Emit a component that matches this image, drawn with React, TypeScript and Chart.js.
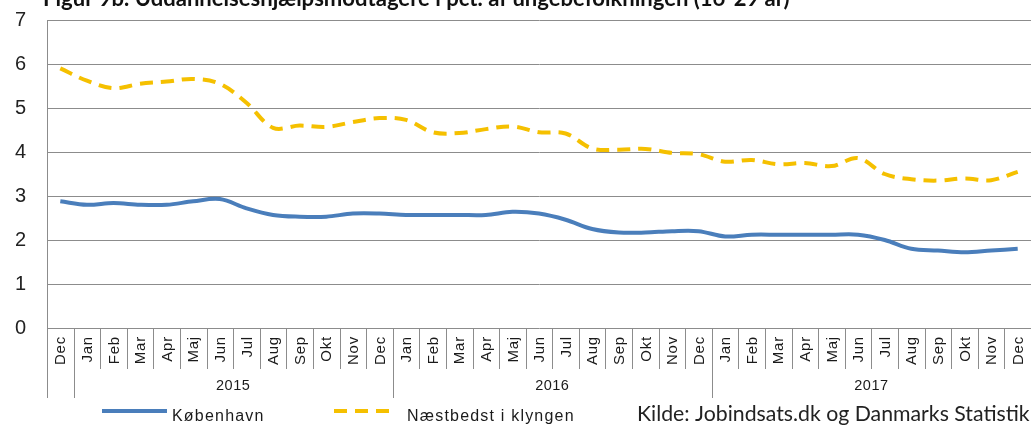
import React, { useEffect, useRef } from "react";
import { Chart, registerables } from "chart.js";

Chart.register(...registerables);

const titleText = "Figur 9b. Uddannelseshjælpsmodtagere i pct. af ungebefolkningen (16-29 år)";
const sourceText = "Kilde: Jobindsats.dk og Danmarks Statistik";

const categories = [
  "Dec",
  "Jan", "Feb", "Mar", "Apr", "Maj", "Jun", "Jul", "Aug", "Sep", "Okt", "Nov", "Dec",
  "Jan", "Feb", "Mar", "Apr", "Maj", "Jun", "Jul", "Aug", "Sep", "Okt", "Nov", "Dec",
  "Jan", "Feb", "Mar", "Apr", "Maj", "Jun", "Jul", "Aug", "Sep", "Okt", "Nov", "Dec",
];

const yearLabels = ["", "2015", "2016", "2017"];
const yearStarts = [0, 1, 13, 25];
const yearEnds = [0, 12, 24, 36];

const seriesNames = ["København", "Næstbedst i klyngen"];

const kobenhavn = [
  2.88,
  2.8, 2.84, 2.8, 2.8, 2.88, 2.93, 2.72, 2.57, 2.53, 2.53, 2.6, 2.6,
  2.57, 2.57, 2.57, 2.57, 2.64, 2.6, 2.46, 2.25, 2.17, 2.17, 2.2, 2.2,
  2.08, 2.12, 2.12, 2.12, 2.12, 2.12, 2.0, 1.8, 1.76, 1.72, 1.76, 1.8,
];

const naestbedst = [
  5.9,
  5.62, 5.45, 5.55, 5.6, 5.66, 5.55, 5.12, 4.55, 4.6, 4.57, 4.68, 4.77,
  4.73, 4.45, 4.43, 4.52, 4.58, 4.45, 4.42, 4.08, 4.05, 4.07, 3.98, 3.95,
  3.78, 3.82, 3.72, 3.75, 3.68, 3.86, 3.5, 3.38, 3.35, 3.4, 3.36, 3.55,
];

const yMin = 0;
const yMax = 7;
const yStep = 1;

const BLUE = "#4A7EBB";
const GOLD = "#F5C000";
const GRID = "#8c8c8c";

function fitFont(ctx: CanvasRenderingContext2D, text: string, weight: string, family: string, target: number) {
  ctx.font = `${weight} 20px ${family}`;
  const w = ctx.measureText(text).width;
  return (20 * target) / w;
}

const decorPlugin = {
  id: "decor",
  afterDraw(chart: any) {
    const ctx: CanvasRenderingContext2D = chart.ctx;
    const x = chart.scales.x;
    const area = chart.chartArea;
    const n = categories.length;
    const w = (x.getPixelForValue(n - 1) - x.getPixelForValue(0)) / (n - 1);
    const bottom = area.bottom;

    ctx.save();
    // separators
    ctx.strokeStyle = GRID;
    ctx.lineWidth = 1;
    for (let i = 0; i < n; i++) {
      const bx = Math.round(x.getPixelForValue(i) - w / 2) + 0.5;
      const isGroup = yearStarts.indexOf(i) >= 0;
      ctx.beginPath();
      ctx.moveTo(bx, bottom);
      ctx.lineTo(bx, isGroup ? bottom + 70 : bottom + 41);
      ctx.stroke();
    }

    // month labels
    ctx.fillStyle = "#1a1a1a";
    ctx.font = "15px 'Liberation Sans', Arial, sans-serif";
    (ctx as any).letterSpacing = "0.8px";
    categories.forEach((c, i) => {
      const px = x.getPixelForValue(i);
      ctx.save();
      ctx.translate(px + 1, bottom + 8);
      ctx.rotate(-Math.PI / 2);
      ctx.textAlign = "right";
      ctx.textBaseline = "middle";
      ctx.fillText(c, 0, 0);
      ctx.restore();
    });

    // year labels
    ctx.font = "14.5px 'Liberation Sans', Arial, sans-serif";
    ctx.textAlign = "center";
    ctx.textBaseline = "middle";
    (ctx as any).letterSpacing = "0.5px";
    yearLabels.forEach((lab, g) => {
      if (!lab) return;
      const cx = (x.getPixelForValue(yearStarts[g]) + x.getPixelForValue(yearEnds[g])) / 2;
      ctx.fillText(lab, cx, bottom + 58);
    });
    (ctx as any).letterSpacing = "0px";

    // legend
    const ly = 411;
    ctx.lineCap = "butt";
    ctx.strokeStyle = BLUE;
    ctx.lineWidth = 4;
    ctx.setLineDash([]);
    ctx.beginPath();
    ctx.moveTo(102, ly);
    ctx.lineTo(167, ly);
    ctx.stroke();
    ctx.strokeStyle = GOLD;
    ctx.setLineDash([13, 8]);
    ctx.beginPath();
    ctx.moveTo(334, ly);
    ctx.lineTo(395, ly);
    ctx.stroke();
    ctx.setLineDash([]);

    ctx.fillStyle = "#1a1a1a";
    ctx.textAlign = "left";
    ctx.textBaseline = "alphabetic";
    (ctx as any).letterSpacing = "1.2px";
    ctx.font = "16px 'Liberation Sans', Arial, sans-serif";
    ctx.fillText(seriesNames[0], 172, 421);
    ctx.fillText(seriesNames[1], 407, 421);
    (ctx as any).letterSpacing = "0px";

    // source
    const sSize = fitFont(ctx, sourceText, "normal", "Lato, sans-serif", 393);
    ctx.font = `normal ${sSize}px Lato, sans-serif`;
    ctx.fillStyle = "#222";
    ctx.fillText(sourceText, 637, 421);

    // title (partially cut off at top)
    const tSize = fitFont(ctx, titleText, "bold", "Lato, sans-serif", 747);
    ctx.font = `bold ${tSize}px Lato, sans-serif`;
    ctx.fillStyle = "#111";
    ctx.fillText(titleText, 43, 6);

    ctx.restore();
  },
};

export default function App() {
  const ref = useRef<HTMLCanvasElement | null>(null);

  useEffect(() => {
    if (!ref.current) return;
    const chart = new Chart(ref.current, {
      type: "line",
      data: {
        labels: categories,
        datasets: [
          {
            label: seriesNames[0],
            data: kobenhavn,
            borderColor: BLUE,
            backgroundColor: BLUE,
            borderWidth: 4,
            pointRadius: 0,
            tension: 0.35,
            fill: false,
          },
          {
            label: seriesNames[1],
            data: naestbedst,
            borderColor: GOLD,
            backgroundColor: GOLD,
            borderWidth: 4,
            borderDash: [13, 8],
            pointRadius: 0,
            tension: 0.35,
            fill: false,
          },
        ],
      },
      options: {
        responsive: false,
        animation: false,
        devicePixelRatio: 1,
        layout: { padding: { top: 20, right: 1, left: 0, bottom: 0 } },
        plugins: {
          legend: { display: false },
          title: { display: false },
          tooltip: { enabled: false },
        },
        scales: {
          x: {
            type: "category",
            offset: true,
            grid: { display: false },
            border: { display: false },
            ticks: { display: false },
            afterFit: (s: any) => {
              s.height = 97;
              s.paddingLeft = 0;
              s.paddingRight = 0;
            },
          },
          y: {
            min: yMin,
            max: yMax,
            ticks: {
              stepSize: yStep,
              color: "#222",
              padding: 21,
              font: { family: "'Liberation Sans', Arial, sans-serif", size: 20 },
            },
            grid: { color: GRID, lineWidth: 1, drawTicks: false },
            border: { display: true, color: GRID, width: 1 },
            afterFit: (s: any) => {
              s.width = 47;
              s.paddingTop = 0;
              s.paddingBottom = 0;
            },
          },
        },
      },
      plugins: [decorPlugin],
    });
    return () => chart.destroy();
  }, []);

  return (
    <div style={{ position: "fixed", left: 0, top: 0, width: 1032, height: 425, background: "#fff" }}>
      <canvas ref={ref} width={1032} height={425} style={{ display: "block" }} />
    </div>
  );
}
